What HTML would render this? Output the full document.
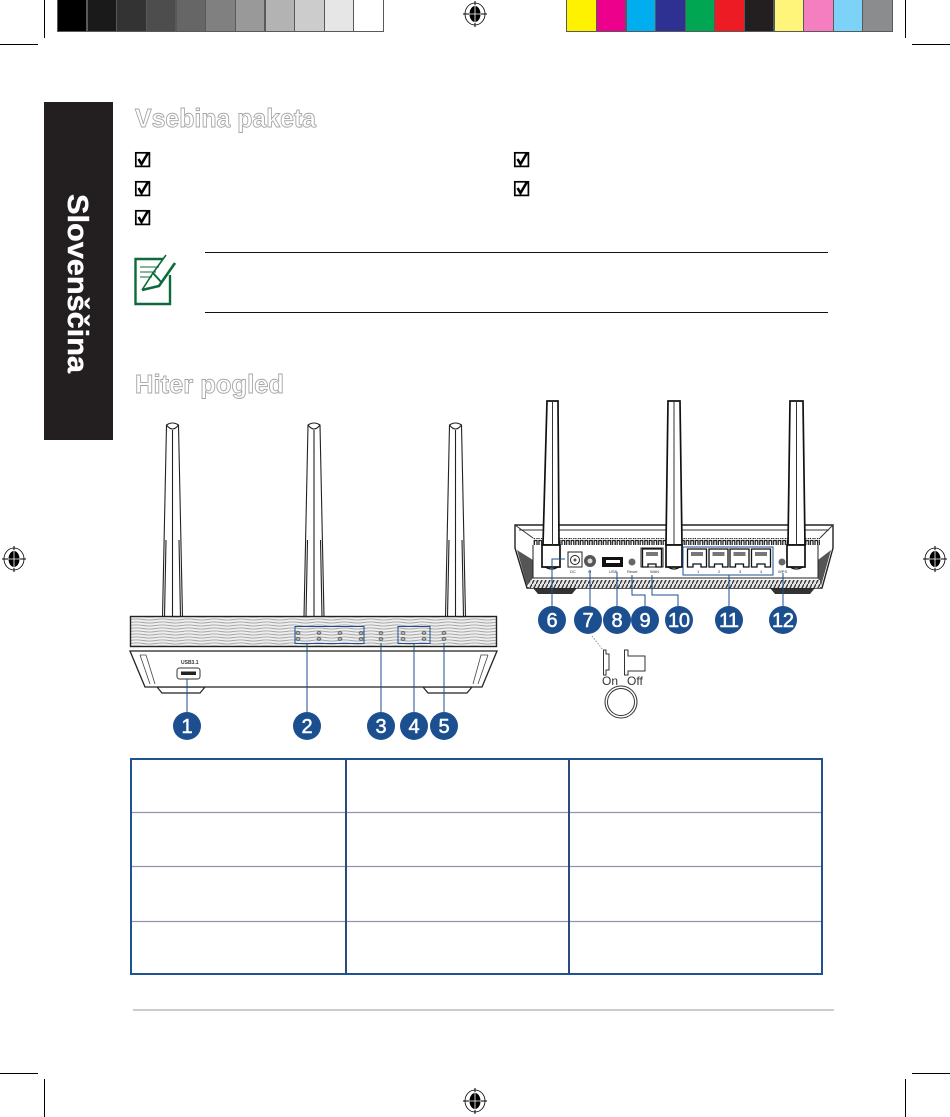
<!DOCTYPE html>
<html><head><meta charset="utf-8"><style>
html,body{margin:0;padding:0;background:#fff;width:950px;height:1117px;overflow:hidden}
svg{display:block;position:absolute;left:0;top:0}
text{font-family:"Liberation Sans",sans-serif}
</style></head><body>
<svg width="950" height="1117" viewBox="0 0 950 1117" xmlns="http://www.w3.org/2000/svg">
<defs>
<pattern id="wave" width="26" height="3" patternUnits="userSpaceOnUse"><rect width="26" height="3" fill="#efefef"/><path d="M0 1.5 Q6.5 .4 13 1.5 T26 1.5" fill="none" stroke="#a4a4a4" stroke-width=".9"/></pattern>
<pattern id="gr" width="4.6" height="7" patternUnits="userSpaceOnUse"><rect width="4.6" height="7" fill="#fff"/><path d="M.8 7V1.500H3.400V7" fill="none" stroke="#222" stroke-width="1.300"/></pattern>
<pattern id="gb" width="4" height="8" patternUnits="userSpaceOnUse"><rect width="4" height="8" fill="#e4e4e4"/><path d="M0 8L4 0" stroke="#333" stroke-width="1.300"/></pattern>
<g id="reg" fill="none" stroke="#000"><ellipse cx="0" cy="0" rx="10" ry="11" stroke-width=".8"/><ellipse cx="0" cy="0" rx="5.500" ry="8" fill="#000" stroke="none"/><path d="M-12 0H12M0-13V13" stroke-width="1"/><path d="M-6 0H6M0-9V9" stroke="#fff" stroke-width=".8"/></g>
<g id="lan"><path d="M-9.500 18V0H9.500V18H4V15H-4V18Z" fill="#fff" stroke="#111" stroke-width="1.300"/><rect x="-6" y="3" width="12" height="4" fill="#777"/></g>
<g id="led" fill="none" stroke="#555" stroke-width=".7"><ellipse rx="2" ry="1.500"/><path d="M-2 0H2"/></g>
</defs>

<!-- colour bars -->
<rect x="57" y="0" width="327" height="32" fill="#58595b"/>
<g>
<rect x="58" y="0" width="28" height="31" fill="#000"/><rect x="88" y="0" width="28" height="31" fill="#1a1a1a"/><rect x="117" y="0" width="29" height="31" fill="#333"/><rect x="147" y="0" width="28" height="31" fill="#4d4d4d"/><rect x="177" y="0" width="28" height="31" fill="#666"/><rect x="206" y="0" width="29" height="31" fill="#808080"/><rect x="236" y="0" width="28" height="31" fill="#999"/><rect x="266" y="0" width="28" height="31" fill="#b3b3b3"/><rect x="295" y="0" width="29" height="31" fill="#ccc"/><rect x="325" y="0" width="28" height="31" fill="#e6e6e6"/><rect x="354" y="0" width="29" height="31" fill="#fff"/>
</g>
<rect x="566" y="0" width="327" height="32" fill="#58595b"/>
<g>
<rect x="567" y="0" width="29" height="31" fill="#fff200"/><rect x="597" y="0" width="28" height="31" fill="#ec008c"/><rect x="627" y="0" width="28" height="31" fill="#00aeef"/><rect x="656" y="0" width="29" height="31" fill="#2e3192"/><rect x="686" y="0" width="28" height="31" fill="#00a651"/><rect x="715" y="0" width="29" height="31" fill="#ed1c24"/><rect x="745" y="0" width="28" height="31" fill="#231f20"/><rect x="775" y="0" width="28" height="31" fill="#fff57a"/><rect x="804" y="0" width="29" height="31" fill="#f47ec0"/><rect x="834" y="0" width="28" height="31" fill="#7dd3f7"/><rect x="863" y="0" width="29" height="31" fill="#8b8c8e"/>
</g>

<!-- crop marks -->
<g stroke="#000" stroke-width="1">
<path d="M44.500 0V38M0 44.500H38M905.500 0V38M912 44.500H950M0 1073.500H38M44.500 1079V1117M912 1073.500H950M905.500 1079V1117"/>
</g>
<use href="#reg" x="475" y="14"/><use href="#reg" x="14" y="559"/><use href="#reg" x="935" y="559"/><use href="#reg" x="475" y="1101"/>

<!-- sidebar -->
<rect x="44" y="102" width="69" height="338" fill="#231f20"/>
<text transform="translate(68,194) rotate(90)" font-size="29" font-weight="700" fill="#fff" stroke="#fff" stroke-width=".4" textLength="179" lengthAdjust="spacingAndGlyphs">Slovenščina</text>

<!-- headings -->
<text x="135" y="127" font-size="26" font-weight="700" fill="#fff" stroke="#a5a5a5" stroke-width=".9" textLength="181" lengthAdjust="spacingAndGlyphs">Vsebina paketa</text>
<text x="135" y="393" font-size="26" font-weight="700" fill="#fff" stroke="#a5a5a5" stroke-width=".9" textLength="149" lengthAdjust="spacingAndGlyphs">Hiter pogled</text>

<!-- checkboxes -->
<g fill="none" stroke="#000">
<g id="c1"><rect x="135.800" y="152.800" width="13.600" height="13.600" stroke-width="1.700"/><path d="M138.500 159L141.500 164L148 153" stroke-width="2.600"/></g>
<use href="#c1" y="29"/><use href="#c1" y="58"/><use href="#c1" x="379"/><use href="#c1" x="379" y="29"/>
</g>

<!-- note -->
<path d="M205 252.500H828M205 312.500H828" stroke="#111" stroke-width="1"/>
<g fill="none" stroke="#0b6b3a">
<path d="M170 275V304H135.500V259H163" stroke-width="2.400"/>
<path d="M140 267H159M140 272H156M140 277H152" stroke-width="1"/>
<path d="M142 290L153 273L166 255" stroke-width="1.600"/>
<path d="M142 290L159 286L175 263" stroke-width="2.600"/>
<path d="M153 273L162 283" stroke-width="2"/>
</g>

<!-- front antennas -->
<g fill="#fff" stroke="#222" stroke-width="1.100">
<g id="ant"><path d="M162.500 617L166.500 425Q172.500 421 178.500 425L182.500 617Z"/><path d="M166.500 425Q172.500 433 178.500 425M172.500 430V617M166 540L164.500 617M179 540L180.500 617"/></g>
<use href="#ant" x="141.500"/><use href="#ant" x="283"/>
</g>

<!-- front router -->
<rect x="130.500" y="616.500" width="366" height="30" fill="url(#wave)" stroke="#222" stroke-width="1.400"/>
<path d="M157 687L162 693H200L205 687ZM423 687L428 693H467L472 687Z" fill="#fff" stroke="#222" stroke-width="1.200"/>
<path d="M130 651H497L482 687H145Z" fill="#fff" stroke="#222" stroke-width="1.300"/>
<path d="M140 655H146L155 684M488 655H481L473 684M140 655L150 684M488 655L478 684" fill="none" stroke="#444" stroke-width=".8"/>
<rect x="177" y="668" width="23" height="11" rx="2.500" fill="#fff" stroke="#333"/>
<rect x="181" y="671.500" width="15" height="3.500" fill="#222"/>
<text x="181" y="664" font-size="5" font-weight="700" fill="#333">USB3.1</text>
<g>
<use href="#led" x="298" y="633"/><use href="#led" x="319" y="633"/><use href="#led" x="340" y="633"/><use href="#led" x="361" y="633"/>
<use href="#led" x="298" y="639"/><use href="#led" x="319" y="639"/><use href="#led" x="340" y="639"/><use href="#led" x="361" y="639"/>
<use href="#led" x="381" y="633"/><use href="#led" x="381" y="639"/>
<use href="#led" x="403" y="633"/><use href="#led" x="424" y="633"/><use href="#led" x="403" y="639"/><use href="#led" x="424" y="639"/>
<use href="#led" x="444" y="633"/><use href="#led" x="444" y="639"/>
</g>
<g fill="none" stroke="#1c4f90" stroke-width="1">
<rect x="295" y="626.500" width="69" height="17"/><rect x="398" y="626.500" width="32" height="17"/>
<path d="M187 679V712M307 643V712M381 643V712M414 643V712M444 643V712"/>
</g>

<!-- back router -->
<path d="M533 588L538 594H572L577 588ZM770 588L775 594H810L815 588Z" fill="#333"/>
<path d="M515 525H833V548L822 588H527L515 548Z" fill="#fff" stroke="#222" stroke-width="1.400"/>
<path d="M517 550L527 586L533 578V560ZM831 550L821 586L818 578V560Z" fill="#555"/>
<path d="M515 525L533 538M833 525L820 538M519 530H829" fill="none" stroke="#333" stroke-width="1"/>
<rect x="533" y="538" width="287" height="7" fill="url(#gr)"/>
<rect x="529" y="580" width="291" height="8" fill="url(#gb)"/>
<path d="M533 545V578H818V545" fill="none" stroke="#222"/>

<!-- back antennas -->
<g fill="#fff" stroke="#111" stroke-width="1.700">
<path d="M547 401L543 545H559L558 401Z"/>
<path d="M668 401L666 545H682L680 401Z"/>
<path d="M790 401L788 545H805L803 401Z"/>
<path d="M542 545H560V567H542ZM666 545H682V567H666ZM787 545H805V567H787Z"/>
</g>
<path d="M552.500 401V545M674 401V545M796.500 401V545" stroke="#333" stroke-width="1"/>
<path d="M545 567Q552 571 558 567M668 567Q674 571 680 567M790 567Q796 571 803 567" fill="none" stroke="#111" stroke-width="1.200"/>

<!-- back ports -->
<rect x="568" y="552" width="14" height="15" fill="#fff" stroke="#222"/>
<circle cx="575" cy="560" r="4.500" fill="#fff" stroke="#222"/><circle cx="575" cy="560" r="1.500" fill="#555"/>
<circle cx="590" cy="561" r="6" fill="#555"/><circle cx="590" cy="561" r="2.500" fill="#ddd"/>
<rect x="602" y="557" width="21" height="10" fill="#111"/><rect x="606" y="560" width="14" height="3" fill="#fff"/>
<circle cx="632" cy="562" r="3.500" fill="#666"/><circle cx="782" cy="562" r="3.500" fill="#666"/>
<rect x="641" y="548" width="22" height="19" fill="#fff" stroke="#222"/>
<use href="#lan" x="652" y="549"/><use href="#lan" x="697" y="549"/><use href="#lan" x="718.500" y="549"/><use href="#lan" x="739.500" y="549"/><use href="#lan" x="761" y="549"/>
<g font-size="4" fill="#333">
<text x="570" y="573">DC</text><text x="588" y="573">O</text><text x="609" y="573">USB</text><text x="627" y="573">Reset</text><text x="650" y="573">WAN</text><text x="697" y="573">1</text><text x="718" y="573">2</text><text x="739" y="573">3</text><text x="760" y="573">4</text><text x="778" y="573">WPS</text>
</g>
<g fill="none" stroke="#1c4f90" stroke-width="1">
<path d="M683 547H773V575H683Z"/>
<path d="M565 559H552V606M590 570V606M617 572V606M632 575V595H645V606M652 575V595H678V606M729 575V606M783 573V606"/>
</g>
<path d="M592 636L603 650" fill="none" stroke="#8a94b5" stroke-width="1" stroke-dasharray="1.500 1.500"/>

<!-- numbered markers -->
<g fill="#1c4f90">
<circle cx="187" cy="726" r="14"/><circle cx="307" cy="726" r="14"/><circle cx="381" cy="726" r="14"/><circle cx="414" cy="726" r="14"/><circle cx="444" cy="726" r="14"/>
<circle cx="552" cy="620" r="14"/><circle cx="588" cy="620" r="14"/><circle cx="617" cy="620" r="14"/><circle cx="645" cy="620" r="14"/><circle cx="679" cy="620" r="14"/><circle cx="729" cy="620" r="14"/><circle cx="783" cy="620" r="14"/>
</g>
<g fill="#fff" stroke="#fff" stroke-width=".5" font-size="20" text-anchor="middle">
<text x="187" y="733">1</text><text x="307" y="733">2</text><text x="381" y="733">3</text><text x="414" y="733">4</text><text x="444" y="733">5</text>
<text x="552" y="627">6</text><text x="588" y="627">7</text><text x="617" y="627">8</text><text x="645" y="627">9</text><text x="679" y="627" textLength="22">10</text><text x="729" y="627" textLength="20">11</text><text x="783" y="627" textLength="22">12</text>
</g>

<!-- power switch -->
<g fill="#fff" stroke="#333" stroke-width="1">
<path d="M603.500 650H606V654H609V670H606V675H603.500Z"/>
<path d="M624.500 650H628V656H645V671H628V675H624.500Z"/>
<circle cx="621" cy="702" r="16"/><circle cx="621" cy="702" r="13.500"/>
</g>
<text x="602" y="685" font-size="12" fill="#333">On</text>
<text x="627" y="685" font-size="12" fill="#333">Off</text>

<!-- table -->
<path d="M132 812.500H821M132 866.500H821M132 921.500H821" stroke="#8f95a8" stroke-width="1.200"/>
<rect x="131" y="759" width="691" height="215" fill="none" stroke="#1f5291" stroke-width="2"/>
<path d="M346 759V974M569 759V974" stroke="#2a4a80" stroke-width="2"/>

<!-- footer rule -->
<rect x="133" y="1009" width="701" height="2" fill="#ccc"/>
</svg>
</body></html>
